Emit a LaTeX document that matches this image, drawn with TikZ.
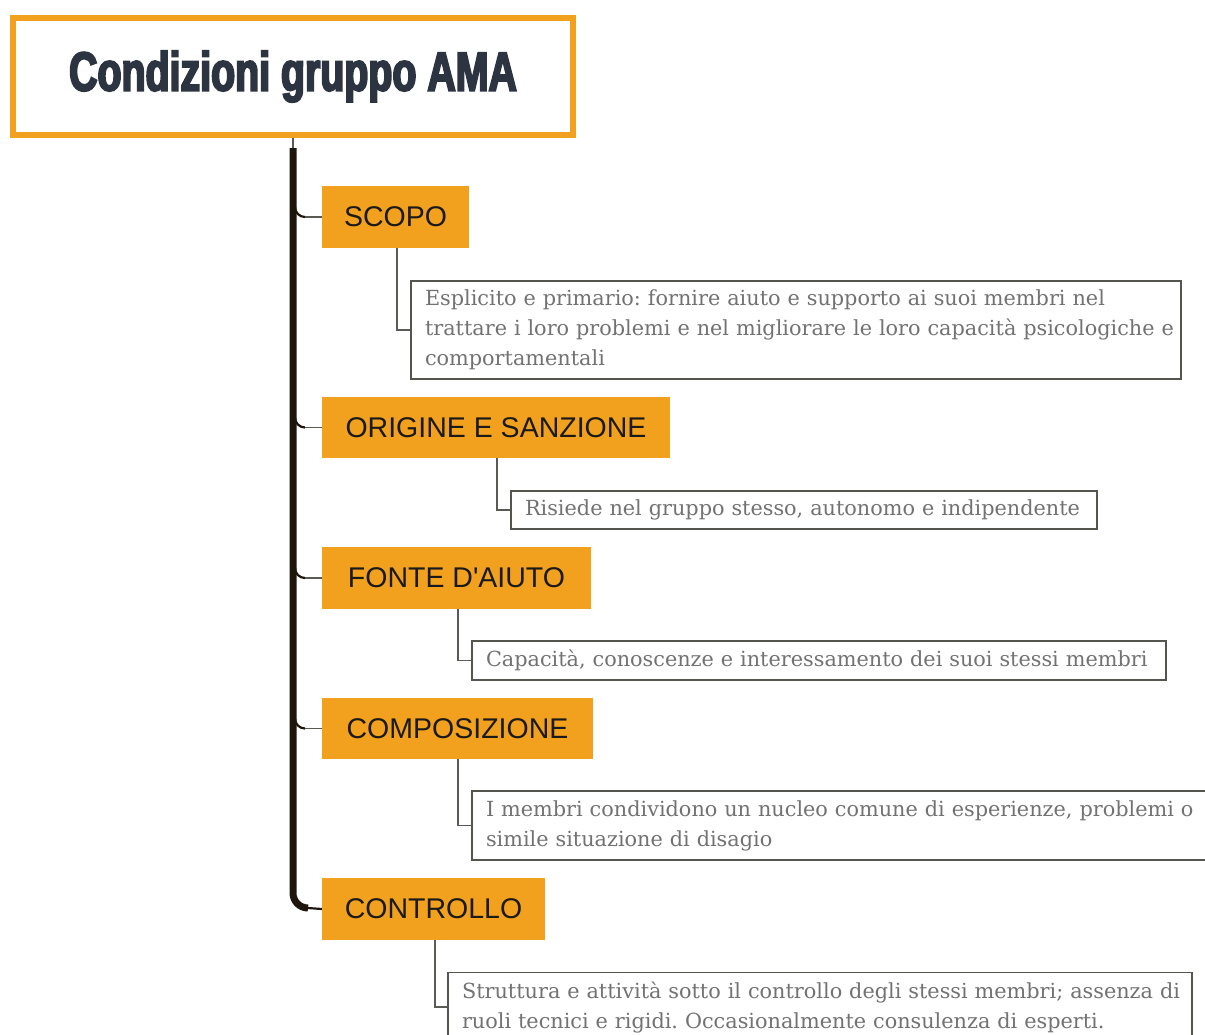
\documentclass[tikz,border=0pt]{standalone}
\usepackage{fontspec}
\setmainfont{DejaVu Serif}
\newfontfamily\labelfont{Liberation Sans}
\newfontfamily\titlefont[FakeStretch=0.715,FakeBold=3.5]{Liberation Sans}
\frenchspacing
\definecolor{amber}{HTML}{F2A11F}
\definecolor{titleink}{HTML}{2C3341}
\definecolor{spineink}{HTML}{1E160C}
\definecolor{twigink}{HTML}{5A5A55}
\definecolor{boxline}{HTML}{55554F}
\definecolor{noteink}{HTML}{727272}
\definecolor{labelink}{HTML}{1A1A1A}
\tikzset{
  titlebox/.style={draw=amber, line width=6pt, fill=white, inner sep=0pt,
    minimum width=560, minimum height=117,
    font=\titlefont\bfseries\fontsize{55}{60}\selectfont, text=titleink},
  topic/.style={fill=amber, inner sep=0pt, minimum height=62,
    font=\labelfont\fontsize{28.5}{34}\selectfont, text=labelink},
  note/.style={draw=boxline, line width=1.4pt, fill=white, align=left,
    inner xsep=14pt, inner ysep=0pt,
    font=\fontsize{20.8}{30}\selectfont, text=noteink},
  spine/.style={draw=spineink, line width=7pt},
  fillet/.style={draw=spineink, line width=2.2pt},
  twig/.style={draw=twigink, line width=1.5pt},
  elbow/.style={draw=twigink, line width=1.5pt},
}
\begin{document}
\begin{tikzpicture}[x=1pt,y=-1pt]
\useasboundingbox (0,0) rectangle (1205,1034);
\clip (0,0) rectangle (1205,1034);

% title
\node[titlebox] (title) at (293,76.5) {Condizioni gruppo AMA};

% topics
\node[topic, minimum width=147] (scopo) at (395.5,217) {SCOPO};
\node[topic, minimum width=348, minimum height=61] (origine) at (496,427.5) {ORIGINE E SANZIONE};
\node[topic, minimum width=269] (fonte) at (456.5,578) {FONTE D'AIUTO};
\node[topic, minimum width=271, minimum height=61] (composizione) at (457.5,728.5) {COMPOSIZIONE};
\node[topic, minimum width=223] (controllo) at (433.5,909) {CONTROLLO};

% notes
\node[note, text width=742, minimum height=98] (n1) at (796,330)
  {\mbox{Esplicito e primario: fornire aiuto e supporto ai suoi membri nel}\\
   \mbox{trattare i loro problemi e nel migliorare le loro capacità psicologiche e}\\
   \mbox{comportamentali}};
\node[note, text width=558, minimum height=38] (n2) at (804,510)
  {\mbox{Risiede nel gruppo stesso, autonomo e indipendente}};
\node[note, text width=666, minimum height=39] (n3) at (819,660.5)
  {\mbox{Capacità, conoscenze e interessamento dei suoi stessi membri}};
\node[note, text width=715, minimum height=69] (n4) at (843.5,825.5)
  {\mbox{I membri condividono un nucleo comune di esperienze, problemi o}\\
   \mbox{simile situazione di disagio}};
\node[note, text width=716, minimum height=69] (n5) at (820,1007)
  {\mbox{Struttura e attività sotto il controllo degli stessi membri; assenza di}\\
   \mbox{ruoli tecnici e rigidi. Occasionalmente consulenza di esperti.}};

% trunk
\coordinate (top) at (293,148);
\coordinate (bend) at (293,893);
\coordinate (foot) at (308,908);
\draw[twig] (title.south) -- (top);
\draw[spine, line cap=butt] (top) -- (bend) arc[start angle=180, end angle=90, radius=15] -- (foot);
\draw[fillet] (foot) -- (controllo.west);

% branches into the topics
\foreach \name/\yy in {scopo/217, origine/427.5, fonte/578, composizione/728.5} {
  \coordinate (j-\name) at (305,\yy);
  \draw[fillet] (295,\yy-10) arc[start angle=180, end angle=90, radius=10];
  \draw[twig] (j-\name) -- (\name.west);
}

% topic-to-note elbows
\draw[elbow] ([xshift=1.5pt]scopo.south) |- (n1.west);
\draw[elbow] ([xshift=1pt]origine.south) |- (n2.west);
\draw[elbow] ([xshift=1.5pt]fonte.south) |- (n3.west);
\draw[elbow] ([xshift=0.5pt]composizione.south) |- (n4.west);
\draw[elbow] ([xshift=1.5pt]controllo.south) |- (n5.west);
\end{tikzpicture}
\end{document}
